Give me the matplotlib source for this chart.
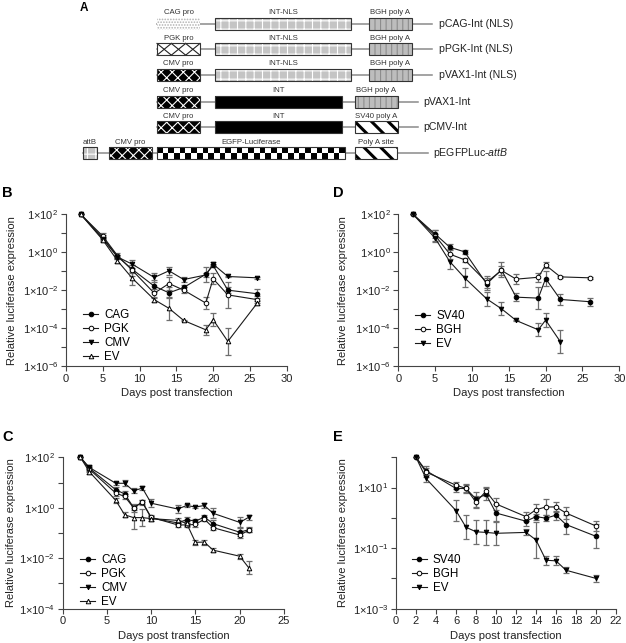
import numpy as np
import matplotlib
matplotlib.use('Agg')
import matplotlib.pyplot as plt
from matplotlib.patches import Rectangle
from matplotlib.ticker import FixedLocator, FuncFormatter, NullLocator

plt.rcParams['font.family'] = ['Liberation Sans', 'DejaVu Sans']
plt.rcParams['mathtext.fontset'] = 'custom'
plt.rcParams['mathtext.rm'] = 'Liberation Sans'
plt.rcParams['mathtext.it'] = 'Liberation Sans:italic'
plt.rcParams['hatch.linewidth'] = 0.8

# ---------------- data (log10 of relative luciferase expression) ----------------
# panel B: promoters
days_b = [2, 5, 7, 9, 12, 14, 16, 19, 20, 22, 26]
b_cag = [2.0, 0.77, -0.23, -0.9, -1.79, -2.14, -1.86, -1.16, -0.70, -2.0, -2.19]
b_pgk = [2.0, 0.85, -0.18, -0.95, -2.16, -1.65, -2.0, -2.68, -1.40, -2.25, -2.5]
b_cmv = [2.0, 0.70, -0.25, -0.63, -1.33, -0.98, -1.44, -1.20, -0.63, -1.28, -1.35]
b_ev = [2.0, 0.65, -0.45, -1.37, -2.5, -2.96, -3.6, -4.09, -3.56, -4.7, -2.68]
b_cag_err = [0, 0.15, 0.1, 0.2, 0.3, 0.3, 0.15, 0.4, 0.1, 0.15, 0.25]
b_pgk_err = [0, 0.15, 0.15, 0.3, 0.2, 0.35, 0.15, 0.3, 0.3, 0.7, 0.2]
b_cmv_err = [0, 0.1, 0.1, 0.2, 0.25, 0.2, 0.15, 0.1, 0.1, 0.05, 0.05]
b_ev_err = [0, 0.1, 0.1, 0.35, 0.1, 0.6, 0.05, 0.25, 0.35, 0.7, 0.1]

# panel C: promoters, second experiment
days_c = [2, 3, 6, 7, 8, 9, 10, 13, 14, 15, 16, 17, 20, 21]
c_cag = [2.0, 1.57, 0.71, 0.55, 0.01, 0.22, -0.41, -0.6, -0.47, -0.53, -0.37, -0.63, -0.97, -0.87]
c_pgk = [2.0, 1.53, 0.58, 0.45, 0.0, 0.22, -0.38, -0.68, -0.68, -0.66, -0.45, -0.79, -1.08, -0.9]
c_cmv = [2.0, 1.6, 0.97, 0.97, 0.67, 0.78, 0.18, -0.05, 0.09, 0.03, 0.09, -0.22, -0.58, -0.38]
c_ev = [2.0, 1.43, 0.29, -0.28, -0.39, -0.39, -0.43, -0.5, -0.62, -1.37, -1.36, -1.68, -1.92, -2.37]
c_cag_err = [0, 0.1, 0.1, 0.1, 0.1, 0.1, 0.1, 0.1, 0.12, 0.1, 0.1, 0.15, 0.15, 0.1]
c_pgk_err = [0, 0.1, 0.12, 0.1, 0.15, 0.08, 0.08, 0.08, 0.08, 0.1, 0.08, 0.1, 0.12, 0.08]
c_cmv_err = [0, 0.1, 0.05, 0.12, 0.1, 0.08, 0.15, 0.15, 0.05, 0.05, 0.1, 0.2, 0.2, 0.1]
c_ev_err = [0, 0.1, 0.1, 0.1, 0.45, 0.35, 0.1, 0.1, 0.1, 0.1, 0.1, 0.08, 0.1, 0.25]

# panel D: poly A signals
days_d = [2, 5, 7, 9, 12, 14, 16, 19, 20, 22, 26]
d_sv40 = [2.0, 0.96, 0.26, 0.02, -1.67, -0.93, -2.37, -2.42, -1.39, -2.49, -2.61]
d_bgh = [2.0, 0.88, -0.10, -0.40, -1.58, -0.96, -1.42, -1.32, -0.68, -1.30, -1.35]
d_ev = [2.0, 0.74, -0.50, -1.35, -2.46, -2.98, -3.6, -4.09, -3.58, -4.72]
d_sv40_err = [0, 0.2, 0.15, 0.12, 0.3, 0.4, 0.2, 0.6, 0.4, 0.3, 0.2]
d_bgh_err = [0, 0.3, 0.25, 0.1, 0.3, 0.25, 0.25, 0.25, 0.15, 0.05, 0.05]
d_ev_err = [0, 0.2, 0.4, 0.5, 0.35, 0.35, 0.05, 0.35, 0.35, 0.6]

# panel E: poly A signals, second experiment
days_e = [2, 3, 6, 7, 8, 9, 10, 13, 14, 15, 16, 17, 20]
e_sv40 = [2.0, 1.56, 0.97, 0.97, 0.62, 0.78, 0.16, -0.11, 0.04, -0.01, 0.09, -0.22, -0.61]
e_bgh = [2.0, 1.51, 1.08, 0.97, 0.52, 0.88, 0.46, 0.04, 0.27, 0.36, 0.36, 0.16, -0.27]
e_ev = [2.0, 1.3, 0.24, -0.31, -0.46, -0.48, -0.51, -0.48, -0.73, -1.4, -1.42, -1.73, -2.0]
e_sv40_err = [0, 0.15, 0.1, 0.15, 0.25, 0.2, 0.3, 0.15, 0.1, 0.1, 0.15, 0.3, 0.4]
e_bgh_err = [0, 0.15, 0.12, 0.12, 0.2, 0.15, 0.2, 0.15, 0.2, 0.25, 0.15, 0.2, 0.15]
e_ev_err = [0, 0.12, 0.35, 0.4, 0.4, 0.4, 0.4, 0.1, 0.6, 0.15, 0.15, 0.1, 0.12]

# ---------------- panel A: plasmid maps (pixel layout) ----------------
plasmid_names = ['pCAG-Int (NLS)', 'pPGK-Int (NLS)', 'pVAX1-Int (NLS)',
                 'pVAX1-Int', 'pCMV-Int', r'pEGFPLuc-$\mathit{attB}$']
plasmid_y = [24, 49.3, 75, 101.7, 127.3, 153.3]
plasmid_line = [(157, 432), (157, 432), (157, 432), (157, 418), (157, 418), (83, 428)]
plasmid_label_x = [439, 439, 439, 423, 423, 433]
plasmid_parts = [
    [('CAG pro', 157, 200, 'cag'), ('INT-NLS', 215, 351, 'nls'), ('BGH poly A', 369, 412, 'bgh')],
    [('PGK pro', 157, 200, 'pgk'), ('INT-NLS', 215, 351, 'nls'), ('BGH poly A', 369, 412, 'bgh')],
    [('CMV pro', 157, 200, 'cmv'), ('INT-NLS', 215, 351, 'nls'), ('BGH poly A', 369, 412, 'bgh')],
    [('CMV pro', 157, 200, 'cmv'), ('INT', 215, 342, 'int'), ('BGH poly A', 355, 398, 'bgh')],
    [('CMV pro', 157, 200, 'cmv'), ('INT', 215, 342, 'int'), ('SV40 poly A', 355, 398, 'sv40')],
    [('attB', 83, 97, 'nls'), ('CMV pro', 109, 152, 'cmv'), ('EGFP-Luciferase', 157, 345, 'egfp'),
     ('Poly A site', 355, 397, 'sv40')],
]

W, H = 626, 643
fig = plt.figure(figsize=(W / 100, H / 100), dpi=100)

axd = fig.add_axes([0, 0, 1, 1])
axd.set_xlim(0, W)
axd.set_ylim(H, 0)
axd.axis('off')

BH = 11.7


def box(x0, x1, yc, style):
    y0 = yc - BH / 2
    w = x1 - x0
    if style == 'cag':
        axd.add_patch(Rectangle((x0, y0), w, BH, facecolor='white', edgecolor='#b0b0b0',
                                hatch='......', lw=0, zorder=3))
        return
    if style == 'nls':
        axd.add_patch(Rectangle((x0, y0), w, BH, facecolor='#c4c4c4', edgecolor='white',
                                hatch='++', lw=0, zorder=3))
    elif style == 'bgh':
        axd.add_patch(Rectangle((x0, y0), w, BH, facecolor='#bdbdbd', edgecolor='#8c8c8c',
                                hatch='|||', lw=0, zorder=3))
    elif style == 'pgk':
        axd.add_patch(Rectangle((x0, y0), w, BH, facecolor='white', lw=0, zorder=3))
        cell = w / 3
        for i in range(3):
            xa, xb = x0 + i * cell, x0 + (i + 1) * cell
            axd.plot([xa, xb], [y0, y0 + BH], color='#222222', lw=0.8, zorder=3.5)
            axd.plot([xa, xb], [y0 + BH, y0], color='#222222', lw=0.8, zorder=3.5)
    elif style == 'cmv':
        axd.add_patch(Rectangle((x0, y0), w, BH, facecolor='black', edgecolor='white',
                                hatch='xxx', lw=0, zorder=3))
    elif style == 'int':
        axd.add_patch(Rectangle((x0, y0), w, BH, facecolor='black', lw=0, zorder=3))
    elif style == 'sv40':
        p = Rectangle((x0, y0), w, BH, facecolor='white', edgecolor='black',
                      hatch='\\\\', lw=0, zorder=3)
        if hasattr(p, 'set_hatch_linewidth'):
            p.set_hatch_linewidth(2.2)
        axd.add_patch(p)
    elif style == 'egfp':
        ncol = int(round(w / 5.7))
        board = (np.indices((2, ncol)).sum(axis=0) % 2).astype(float)
        axd.imshow(board, cmap='gray', extent=(x0, x1, y0 + BH, y0), aspect='auto',
                   interpolation='nearest', zorder=3)
    axd.add_patch(Rectangle((x0, y0), w, BH, fill=False, edgecolor='#333333', lw=0.8, zorder=4))


for name, yc, (lx0, lx1), nx, parts in zip(plasmid_names, plasmid_y, plasmid_line,
                                            plasmid_label_x, plasmid_parts):
    axd.plot([lx0, lx1], [yc, yc], color='#8a8a8a', lw=1.1, zorder=2)
    for lab, x0, x1, st in parts:
        box(x0, x1, yc, st)
        axd.text((x0 + x1) / 2, yc - 11.3, lab, ha='center', va='center', fontsize=5.6,
                 color='#333333')
    axd.text(nx, yc, name, ha='left', va='center', fontsize=7.6, color='#222222')

axd.text(80, 8, 'A', fontsize=8.5, fontweight='bold', ha='left', va='center')
axd.text(2, 193, 'B', fontsize=10.5, fontweight='bold', ha='left', va='center')
axd.text(333, 193, 'D', fontsize=10.5, fontweight='bold', ha='left', va='center')
axd.text(2, 437, 'C', fontsize=10.5, fontweight='bold', ha='left', va='center')
axd.text(333, 437, 'E', fontsize=10.5, fontweight='bold', ha='left', va='center')


# ---------------- line charts ----------------
def px_axes(left, right, top, bottom):
    return fig.add_axes([left / W, 1 - bottom / H, (right - left) / W, (bottom - top) / H])


filled_o = dict(marker='o', mfc='black', mec='black')
open_o = dict(marker='o', mfc='white', mec='black')
filled_v = dict(marker='v', mfc='black', mec='black')
open_t = dict(marker='^', mfc='white', mec='black')


def panel(ax, days, series, errs, labels, markers, ymin_exp, xmax, xstep, label_parity,
          legend_xy, ylab_x):
    for y, e, lab, mk in zip(series, errs, labels, markers):
        y = np.array(y)
        e = np.array(e)
        x = np.array(days[:len(y)])
        v = 10.0 ** y
        ax.errorbar(x, v, yerr=[v - 10.0 ** (y - e), 10.0 ** (y + e) - v], fmt='none',
                    ecolor='#6e6e6e', elinewidth=0.9, capsize=2.2, capthick=0.9,
                    zorder=2, clip_on=False)
        ax.plot(x, v, color='#1a1a1a', lw=0.8, ms=3.3, mew=0.7, label=lab, zorder=3,
                clip_on=False, **mk)
    ax.set_yscale('log')
    ax.set_ylim(10.0 ** ymin_exp, 100)
    ax.set_xlim(0, xmax)
    exps = np.arange(ymin_exp, 3)
    ax.yaxis.set_major_locator(FixedLocator(10.0 ** exps))
    ax.yaxis.set_minor_locator(NullLocator())

    def fmt(val, pos):
        k = int(round(np.log10(val)))
        if k % 2 != label_parity:
            return ''
        return r'$1{\times}10^{%d}$' % k

    ax.yaxis.set_major_formatter(FuncFormatter(fmt))
    ax.set_xticks(np.arange(0, xmax + 0.1, xstep))
    for s in ['top', 'right']:
        ax.spines[s].set_visible(False)
    for s in ['left', 'bottom']:
        ax.spines[s].set_color('#444444')
        ax.spines[s].set_linewidth(0.8)
    ax.tick_params(direction='out', length=3.5, width=0.8, color='#444444',
                   labelsize=8, pad=2, labelcolor='#222222')
    ax.set_xlabel('Days post transfection', fontsize=8.1, color='#222222')
    ax.set_ylabel('Relative luciferase expression', fontsize=8.0, color='#222222')
    ax.xaxis.set_label_coords(0.5, -0.145)
    ax.yaxis.set_label_coords(ylab_x, 0.5)
    ax.legend(loc='upper left', bbox_to_anchor=legend_xy, frameon=False, fontsize=8.4,
              handlelength=1.3, handletextpad=0.5, labelspacing=0.18, borderpad=0,
              borderaxespad=0)


ax_b = px_axes(66, 286.7, 214.3, 366)
panel(ax_b, days_b, [b_cag, b_pgk, b_cmv, b_ev], [b_cag_err, b_pgk_err, b_cmv_err, b_ev_err],
      ['CAG', 'PGK', 'CMV', 'EV'], [filled_o, open_o, filled_v, open_t], -6, 30, 5, 0,
      (0.077, 0.375), -0.22)

ax_d = px_axes(398.3, 619.3, 214.3, 366)
panel(ax_d, days_d, [d_sv40, d_bgh, d_ev], [d_sv40_err, d_bgh_err, d_ev_err],
      ['SV40', 'BGH', 'EV'], [filled_o, open_o, filled_v], -6, 30, 5, 0, (0.076, 0.371),
      -0.228)

ax_c = px_axes(62.7, 284, 457.3, 608.7)
panel(ax_c, days_c, [c_cag, c_pgk, c_cmv, c_ev], [c_cag_err, c_pgk_err, c_cmv_err, c_ev_err],
      ['CAG', 'PGK', 'CMV', 'EV'], [filled_o, open_o, filled_v, open_t], -4, 25, 5, 0,
      (0.078, 0.361), -0.209)

ax_e = px_axes(396, 616, 457.3, 608.7)
panel(ax_e, days_e, [e_sv40, e_bgh, e_ev], [e_sv40_err, e_bgh_err, e_ev_err],
      ['SV40', 'BGH', 'EV'], [filled_o, open_o, filled_v], -3, 22, 2, 1, (0.071, 0.361),
      -0.218)

fig.savefig('out.png', dpi=100)
